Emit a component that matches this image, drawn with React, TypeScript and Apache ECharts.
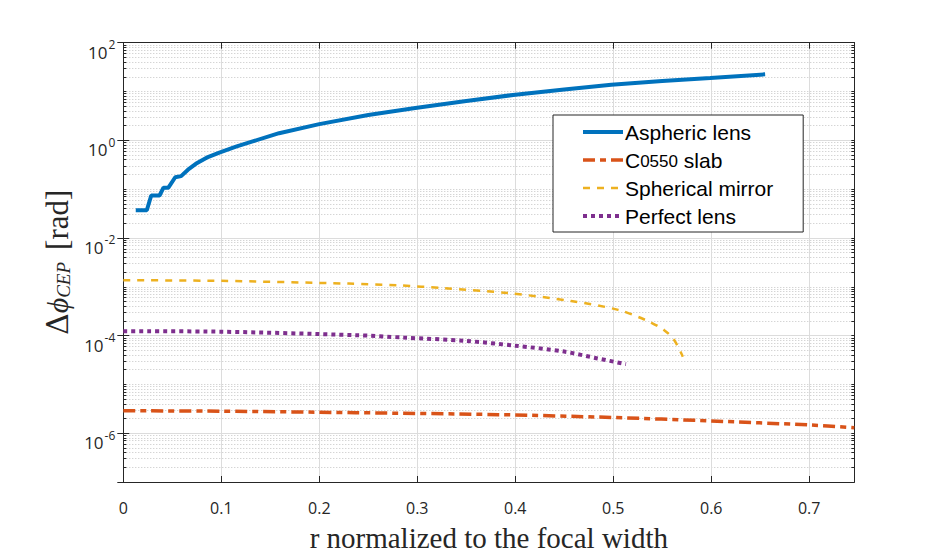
import React, { useEffect, useRef } from "react";
import * as echarts from "echarts";

// ---- data ----
const asphericR = [0.0127, 0.024, 0.0285, 0.037, 0.041, 0.046, 0.053, 0.059, 0.066, 0.074, 0.085, 0.098, 0.115, 0.132, 0.159, 0.2, 0.25, 0.298, 0.35, 0.4, 0.45, 0.498, 0.55, 0.599, 0.655];
const asphericPhase = [0.037, 0.037, 0.074, 0.074, 0.107, 0.107, 0.175, 0.185, 0.25, 0.33, 0.44, 0.56, 0.74, 0.95, 1.4, 2.15, 3.3, 4.6, 6.4, 8.6, 11, 13.8, 16.5, 19, 22.5];

const slabR = [0, 0.1, 0.237, 0.383, 0.498, 0.6, 0.698, 0.746];
const slabPhase = [2.88e-6, 2.82e-6, 2.63e-6, 2.4e-6, 2.1e-6, 1.78e-6, 1.48e-6, 1.29e-6];

const mirrorR = [0, 0.1, 0.23, 0.281, 0.328, 0.393, 0.457, 0.505, 0.535, 0.552, 0.562, 0.571];
const mirrorPhase = [1.36e-3, 1.32e-3, 1.16e-3, 1.07e-3, 9.3e-4, 7.4e-4, 5.1e-4, 3.36e-4, 2.0e-4, 1.29e-4, 8.2e-5, 3.7e-5];

const perfectR = [0, 0.1, 0.237, 0.286, 0.349, 0.4, 0.45, 0.484, 0.513];
const perfectPhase = [1.23e-4, 1.2e-4, 1.02e-4, 9.1e-5, 7.8e-5, 6.2e-5, 4.7e-5, 3.4e-5, 2.6e-5];

const seriesNames = ["Aspheric lens", "C0550 slab", "Spherical mirror", "Perfect lens"];
const xTickValues = [0, 0.1, 0.2, 0.3, 0.4, 0.5, 0.6, 0.7];
const xLabelTexts = ["0", "0.1", "0.2", "0.3", "0.4", "0.5", "0.6", "0.7"];
const yLabelExponents = [-6, -4, -2, 0, 2];

const X_MAX = 0.746;
const Y_MIN = 1e-7;
const Y_MAX = 100;

const zip = (xs: number[], ys: number[]) => xs.map((x, i) => [x, ys[i]]);

const AXIS_COLOR = "#262626";
const GRID_COLOR = "#dcdcdc";
const MINOR_COLOR = "#c4c4c4";
const SERIF = "Liberation Serif";

export default function App() {
  const ref = useRef<HTMLDivElement>(null);

  useEffect(() => {
    if (!ref.current) return;
    const chart = echarts.init(ref.current, undefined, { renderer: "svg" });

    const grid = { left: 123.3, right: 945 - 854.3, top: 42.7, bottom: 557 - 483.3 };

    const xLabelFormatter = (v: number) => {
      const idx = xTickValues.findIndex((t) => Math.abs(t - v) < 1e-6);
      return idx >= 0 ? xLabelTexts[idx] : "";
    };

    const yLabelFormatter = (v: number) => {
      const e = Math.round(Math.log10(v));
      return yLabelExponents.includes(e) ? `{b|10}{s|${e}}` : "";
    };

    const option: any = {
      animation: false,
      backgroundColor: "#ffffff",
      grid,
      xAxis: [
        {
          type: "value",
          position: "bottom",
          min: 0,
          max: X_MAX,
          interval: 0.1,
          name: "r normalized to the focal width",
          nameLocation: "middle",
          nameGap: 41,
          nameTextStyle: { fontFamily: SERIF, fontSize: 29, color: "#262626" },
          axisLine: { show: true, onZero: false, lineStyle: { color: AXIS_COLOR, width: 1 } },
          axisTick: { show: true, inside: true, length: 6, lineStyle: { color: AXIS_COLOR } },
          axisLabel: {
            formatter: xLabelFormatter,
            margin: 18,
            fontFamily: "Open Sans",
            fontSize: 16,
            color: "#262626",
            showMaxLabel: false,
          },
          splitLine: { show: true, lineStyle: { color: GRID_COLOR, width: 1 } },
        },
        {
          type: "value",
          position: "top",
          min: 0,
          max: X_MAX,
          interval: 0.1,
          axisLine: { show: true, onZero: false, lineStyle: { color: AXIS_COLOR, width: 1 } },
          axisTick: { show: true, inside: true, length: 6, lineStyle: { color: AXIS_COLOR } },
          axisLabel: { show: false },
          splitLine: { show: false },
        },
      ],
      yAxis: [
        {
          type: "log",
          logBase: 10,
          position: "left",
          min: Y_MIN,
          max: Y_MAX,
          splitNumber: 5,
          name: "{d|Δ}{p|ϕ}{c|CEP}{sp| }{br|[rad]}",
          nameLocation: "middle",
          nameRotate: 90,
          nameGap: 50,
          nameTextStyle: {
            color: "#262626",
            fontFamily: SERIF,
            fontSize: 30,
            rich: {
              d: { fontFamily: "DejaVu Serif", fontSize: 30, color: "#262626" },
              p: { fontFamily: "Liberation Serif, DejaVu Serif", fontStyle: "italic", fontSize: 30, color: "#262626" },
              c: { fontFamily: SERIF, fontStyle: "italic", fontSize: 19, color: "#262626", padding: [12, 0, 0, 0] },
              sp: { fontSize: 12, width: 12 },
              br: { fontFamily: SERIF, fontSize: 31, color: "#262626" },
            },
          },
          axisLine: { show: true, onZero: false, lineStyle: { color: AXIS_COLOR, width: 1 } },
          axisTick: { show: true, inside: true, length: 3, lineStyle: { color: AXIS_COLOR } },
          minorTick: { show: true, splitNumber: 9, length: 3, lineStyle: { color: AXIS_COLOR } },
          axisLabel: {
            formatter: yLabelFormatter,
            margin: 8,
            color: "#262626",
            padding: [11, 0, 0, 0],
            rich: {
              b: { fontFamily: "Open Sans", fontSize: 17, color: "#262626", padding: [8, 0, 0, 0], verticalAlign: "bottom" },
              s: { fontFamily: "Open Sans", fontSize: 12, color: "#262626", padding: [3, 0, 0, 1], verticalAlign: "top" },
            },
          },
          splitLine: { show: true, lineStyle: { color: MINOR_COLOR, width: 1, type: [1, 2] } },
          minorSplitLine: { show: true, lineStyle: { color: MINOR_COLOR, width: 1, type: [1, 2] } },
        },
        {
          type: "log",
          logBase: 10,
          position: "right",
          min: Y_MIN,
          max: Y_MAX,
          splitNumber: 5,
          axisLine: { show: true, onZero: false, lineStyle: { color: AXIS_COLOR, width: 1 } },
          axisTick: { show: true, inside: true, length: 3, lineStyle: { color: AXIS_COLOR } },
          minorTick: { show: true, splitNumber: 9, length: 3, lineStyle: { color: AXIS_COLOR } },
          axisLabel: { show: false },
          splitLine: { show: false },
        },
        {
          type: "value",
          position: "left",
          min: -7,
          max: 2,
          splitNumber: 5,
          axisLine: { show: false },
          axisTick: { show: true, inside: true, length: 6, lineStyle: { color: AXIS_COLOR } },
          axisLabel: { show: false },
          splitLine: { show: true, lineStyle: { color: GRID_COLOR, width: 1 } },
        },
        {
          type: "value",
          position: "right",
          min: -7,
          max: 2,
          splitNumber: 5,
          axisLine: { show: false },
          axisTick: { show: true, inside: true, length: 6, lineStyle: { color: AXIS_COLOR } },
          axisLabel: { show: false },
          splitLine: { show: false },
        },
      ],
      legend: {
        show: true,
        orient: "vertical",
        left: 553,
        top: 115,
        data: seriesNames,
        itemWidth: 40,
        itemHeight: 14,
        itemGap: 6,
        padding: [6, 30, 5, 28],
        backgroundColor: "#ffffff",
        borderColor: AXIS_COLOR,
        borderWidth: 1,
        borderRadius: 0,
        itemStyle: { opacity: 0, borderWidth: 0 },
        lineStyle: { width: "inherit" },
        formatter: (name: string) => (name === "C0550 slab" ? "{n|C}{g|0550}{n| slab}" : name),
        textStyle: {
          fontFamily: "Liberation Sans",
          fontSize: 21,
          lineHeight: 22,
          color: "#000000",
          padding: [0, 0, 0, -3],
          rich: {
            n: { fontFamily: "Liberation Sans", fontSize: 21, color: "#000000" },
            g: { fontFamily: "Liberation Sans", fontSize: 17, color: "#000000", padding: [3, 0, 0, 0] },
          },
        },
      },
      series: [
        {
          name: seriesNames[0],
          type: "line",
          xAxisIndex: 0,
          yAxisIndex: 0,
          data: zip(asphericR, asphericPhase),
          symbol: "none",
          lineStyle: { color: "#0072BD", width: 4, type: "solid" },
          itemStyle: { color: "#0072BD", opacity: 0 },
        },
        {
          name: seriesNames[1],
          type: "line",
          xAxisIndex: 0,
          yAxisIndex: 0,
          data: zip(slabR, slabPhase),
          symbol: "none",
          smooth: 0.3,
          lineStyle: { color: "#D95319", width: 3.5, type: [12, 5, 6, 5] },
          itemStyle: { color: "#D95319", opacity: 0 },
        },
        {
          name: seriesNames[2],
          type: "line",
          xAxisIndex: 0,
          yAxisIndex: 0,
          data: zip(mirrorR, mirrorPhase),
          symbol: "none",
          smooth: 0.3,
          lineStyle: { color: "#EDB120", width: 2.5, type: [7, 7] },
          itemStyle: { color: "#EDB120", opacity: 0 },
        },
        {
          name: seriesNames[3],
          type: "line",
          xAxisIndex: 0,
          yAxisIndex: 0,
          data: zip(perfectR, perfectPhase),
          symbol: "none",
          smooth: 0.3,
          lineStyle: { color: "#7E2F8E", width: 4, type: [4, 4] },
          itemStyle: { color: "#7E2F8E", opacity: 0 },
        },
      ],
    };

    chart.setOption(option);
    return () => chart.dispose();
  }, []);

  return (
    <div
      ref={ref}
      style={{ position: "fixed", left: 0, top: 0, width: 945, height: 557, background: "#fff" }}
    />
  );
}
